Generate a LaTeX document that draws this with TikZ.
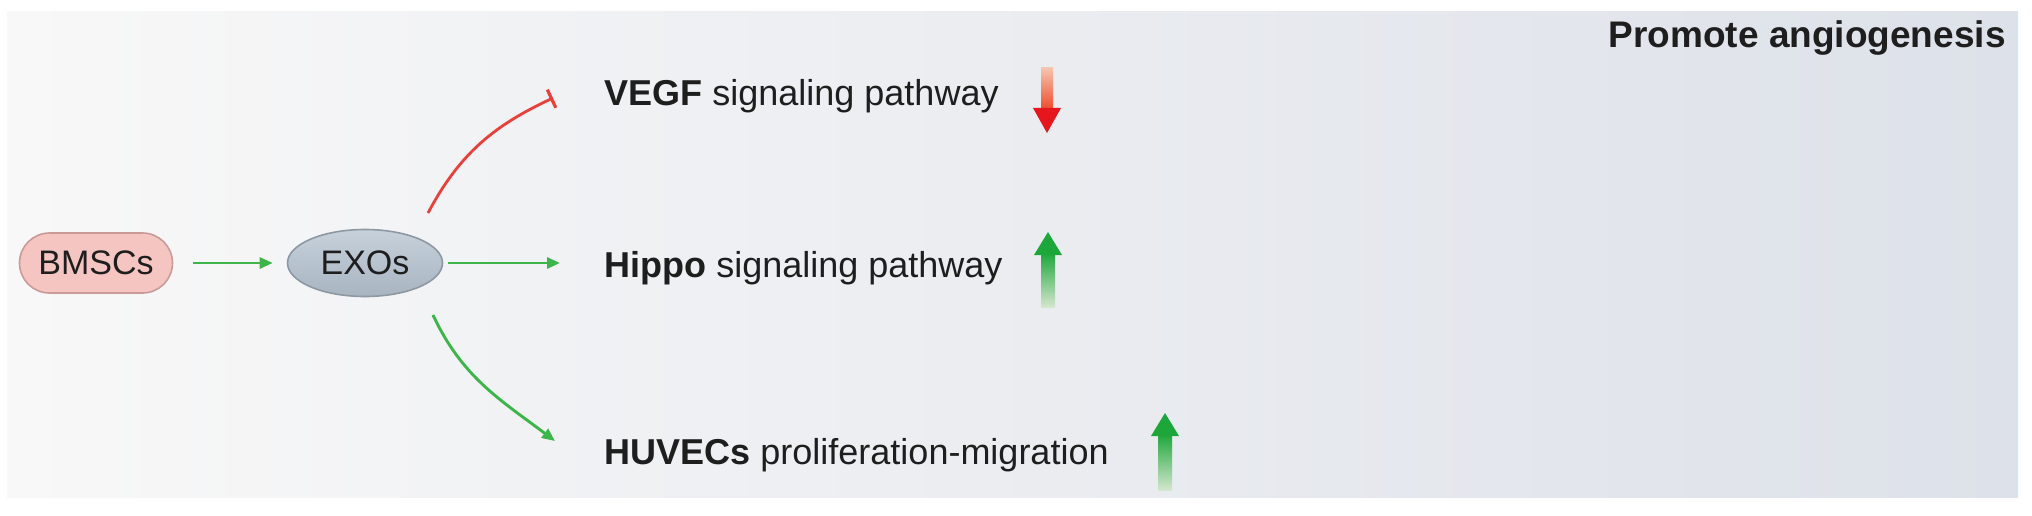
\documentclass[tikz,border=0pt]{standalone}
\usepackage{fontspec}
\setmainfont{Liberation Sans}
\usetikzlibrary{arrows.meta,shapes.geometric}
\definecolor{pL}{HTML}{F8F8F8}
\definecolor{pM}{HTML}{EDEFF3}
\definecolor{pR}{HTML}{DDE1E9}
\definecolor{gArr}{HTML}{3DB54A}
\definecolor{rArr}{HTML}{E8403A}
\definecolor{bmFill}{HTML}{F5C5C1}
\definecolor{bmDraw}{HTML}{C99A97}
\definecolor{exTop}{HTML}{C6D1DB}
\definecolor{exBot}{HTML}{A8B4C0}
\definecolor{exDraw}{HTML}{8E98A3}
\definecolor{txt}{HTML}{1E1E1E}
\definecolor{upG}{HTML}{1DA73A}
\definecolor{upGfade}{HTML}{D3E6CE}
\definecolor{dnR}{HTML}{E5161C}
\definecolor{dnRmid}{HTML}{EC4A2A}
\definecolor{dnRfade}{HTML}{F6C4AE}
\begin{document}
\begin{tikzpicture}[x=0.5pt,y=0.5pt,
  lbl/.style={anchor=base west,inner sep=0pt,font=\fontsize{18}{20}\selectfont,text=txt},
  bmbox/.style={rectangle,rounded corners=15pt,minimum width=76.5pt,minimum height=30pt,inner sep=0pt,
    fill=bmFill,draw=bmDraw,line width=0.8pt,font=\fontsize{17}{19}\selectfont,text=txt},
  exbox/.style={ellipse,minimum width=77.5pt,minimum height=33.5pt,inner sep=0pt,
    top color=exTop,bottom color=exBot,draw=exDraw,line width=0.8pt,font=\fontsize{17}{19}\selectfont,text=txt},
  garrow/.style={draw=gArr,line width=1.45pt,-{Triangle[length=6.5pt,width=5.5pt]}},
  rbar/.style={draw=rArr,line width=1.4pt,-{Bar[width=10pt,line width=1.6pt]}},
  upshaft/.style={top color=upG,bottom color=upGfade},
  dnshaft/.style={top color=dnRfade,bottom color=dnRmid}]
\useasboundingbox (0,0) rectangle (2032,515);
\fill[white] (0,0) rectangle (2032,515);
\shade[left color=pL,middle color=pM,right color=pR] (7,18) rectangle (2018,503);
% nodes
\node[bmbox] (b) at (96,252) {BMSCs};
\node[exbox] (e) at (365,252) {EXOs};
\node[lbl] (vegf) at (604,409) {\textbf{VEGF} signaling pathway};
\node[lbl] (hip) at (604,238) {\textbf{Hippo} signaling pathway};
\node[lbl] (huv) at (604,51) {\textbf{HUVECs} proliferation-migration};
\node[lbl,anchor=base east,font=\fontsize{18.5}{20}\selectfont\bfseries] (pa) at (2006,467) {Promote angiogenesis};
% connectors
\draw[garrow,shorten <=10pt,shorten >=7pt] (b.east) -- (e.west);
\draw[garrow,shorten <=2.5pt,shorten >=22pt] (e.east) -- (e.east -| hip.west);
\coordinate (r0) at (428,302);
\coordinate (r1) at (553,417);
\draw[rbar] (r0) to[out=62,in=205] (r1);
\coordinate (g0) at (433,200);
\coordinate (g1) at (555,74);
\draw[garrow] (g0) to[out=-65,in=143] (g1);
% trend arrows
\shade[dnshaft] (1041,447) rectangle (1053,405);
\fill[dnR] (1033,407) -- (1061,407) -- (1047,382) -- cycle;
\shade[upshaft] (1041,262) rectangle (1055,208);
\fill[upG] (1034,260) -- (1062,260) -- (1048,283) -- cycle;
\shade[upshaft] (1158,81) rectangle (1172,25);
\fill[upG] (1151,79) -- (1179,79) -- (1165,102) -- cycle;
\end{tikzpicture}
\end{document}
